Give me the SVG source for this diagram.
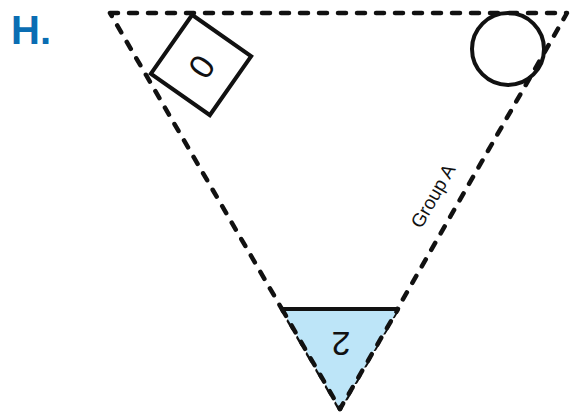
<svg xmlns="http://www.w3.org/2000/svg" width="570" height="413" viewBox="0 0 570 413">
<style>
.dash{fill:none;stroke:#111;stroke-width:4.5;stroke-dasharray:8,11;stroke-linecap:round;stroke-linejoin:round}
.solid{fill:none;stroke:#111;stroke-width:4}
.num{font-family:"Liberation Sans",Arial,sans-serif;font-size:34px;fill:#111;text-anchor:middle;dominant-baseline:central}
</style>
<rect width="570" height="413" fill="#fff"/>
<text x="11" y="44" font-family="Liberation Sans,Arial,sans-serif" font-weight="bold" font-size="40" fill="#0a6db3">H.</text>
<g id="connectors">
<polygon id="groupA" points="110,13 567,13 340,409" fill="none" class="dash"/>
<text x="433" y="196" transform="rotate(-60 433 196)" font-family="Liberation Sans,Arial,sans-serif" font-size="19" fill="#111" text-anchor="middle" dominant-baseline="central">Group A</text>
</g>
<g id="node2">
<polygon points="282,309 398,309 340,409" fill="#bde5f8"/>
<path d="M282,309 L340,409 L398,309" class="dash"/>
<line x1="281" y1="309" x2="399" y2="309" class="solid"/>
<text x="341" y="344" transform="rotate(180 341 344)" class="num">2</text>
</g>
<g id="node0">
<rect x="165" y="29" width="72" height="72" transform="rotate(35 201 65)" class="solid" fill="#fff"/>
<text x="202" y="67" transform="rotate(125 202 67)" class="num">0</text>
</g>
<g id="node1">
<circle cx="508" cy="49" r="36" class="solid"/>
</g>
</svg>
